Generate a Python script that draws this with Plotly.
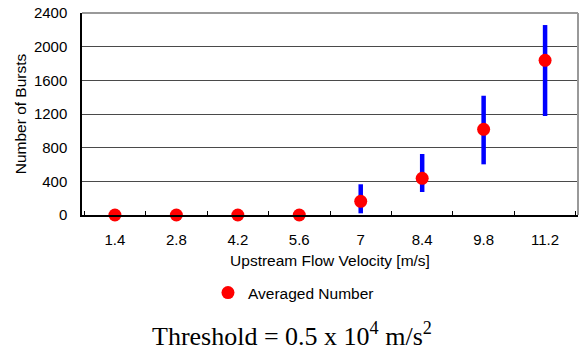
import plotly.graph_objects as go

velocity = ['1.4', '2.8', '4.2', '5.6', '7', '8.4', '9.8', '11.2']
averaged = [0, 0, 0, 0, 163, 436, 1018, 1838]
lower = [0, 0, 0, 0, 20, 273, 602, 1176]
upper = [0, 0, 0, 0, 365, 725, 1417, 2257]
y_ticks = [0, 400, 800, 1200, 1600, 2000, 2400]

rx, ry = [], []
for c, lo, hi in zip(velocity, lower, upper):
    if hi > lo:
        rx += [c, c, None]
        ry += [lo, hi, None]

fig = go.Figure()
fig.add_trace(go.Scatter(x=rx, y=ry, mode='lines', line=dict(color='#0000ff', width=4.5),
                         showlegend=False, hoverinfo='skip', cliponaxis=False))
fig.add_trace(go.Scatter(x=velocity, y=averaged, mode='markers', name='Averaged Number',
                         marker=dict(color='#ff0000', size=13), cliponaxis=False))

font = 'Liberation Sans, Arial, sans-serif'
fig.update_layout(
    width=583, height=351,
    margin=dict(l=82, r=5, t=13, b=136, autoexpand=False),
    paper_bgcolor='white', plot_bgcolor='white',
    font=dict(family=font, size=15, color='black'),
    showlegend=True,
    legend=dict(orientation='h', x=0.254, xanchor='left', y=-0.386, yanchor='middle',
                font=dict(size=15.5), itemwidth=30, tracegroupgap=0, bgcolor='rgba(0,0,0,0)'),
    xaxis=dict(type='category', categoryorder='array', categoryarray=velocity,
               showgrid=False, showline=True, linecolor='black', linewidth=1.5,
               ticks='inside', tickson='boundaries', ticklen=4, tickcolor='black',
               ticklabelstandoff=10, automargin=False, tickfont=dict(size=15),
               title=dict(text='Upstream Flow Velocity [m/s]', standoff=8, font=dict(size=15.5))),
    yaxis=dict(range=[0, 2400], tickvals=y_ticks, showgrid=True, gridcolor='#4a4a4a', gridwidth=1,
               showline=True, linecolor='black', linewidth=1.5, ticks='', zeroline=False,
               ticklabelstandoff=10, automargin=False, tickfont=dict(size=15),
               title=dict(text='Number of Bursts', standoff=3, font=dict(size=15.5))),
    shapes=[dict(type='line', xref='paper', yref='paper', x0=0, x1=1, y0=1, y1=1,
                 line=dict(color='#999999', width=2)),
            dict(type='line', xref='paper', yref='paper', x0=1, x1=1, y0=0, y1=1,
                 line=dict(color='#999999', width=2))],
    annotations=[dict(text='Threshold = 0.5 x 10<sup>4</sup> m/s<sup>2</sup>', xref='paper', yref='paper',
                      x=0.424, y=-0.59, xanchor='center', yanchor='middle', showarrow=False,
                      font=dict(family='Liberation Serif, Times New Roman, serif', size=26, color='black'))],
)
fig.write_html('out.html', config={'displayModeBar': False},
               post_script="document.body.style.margin='0';document.body.style.padding='0';")
